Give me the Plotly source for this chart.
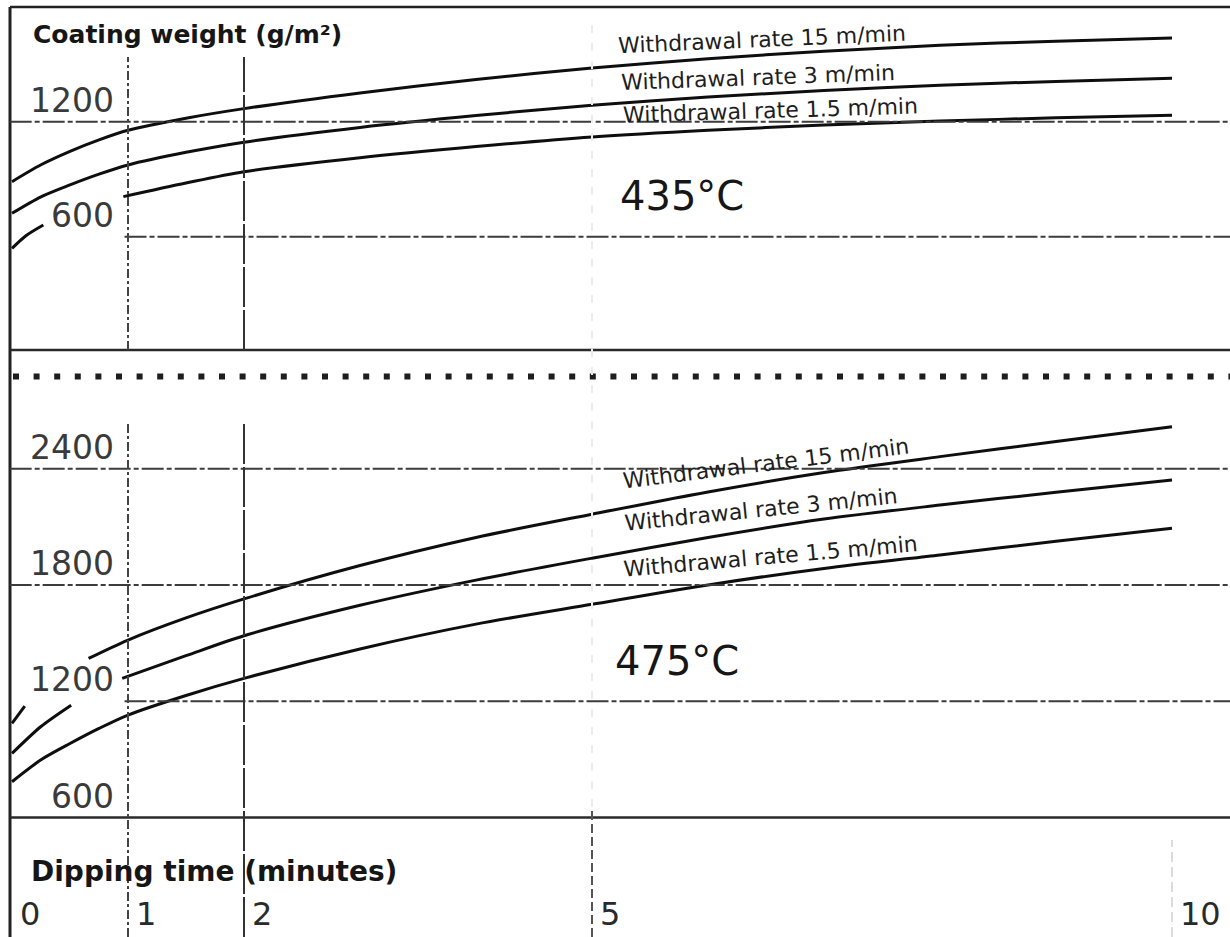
import plotly.graph_objects as go

# ---------------- data ----------------
x_ticks = [0, 1, 2, 5, 10]
x_tick_labels = ["0", "1", "2", "5", "10"]
y_ticks_top = [600, 1200]
y_ticks_bottom = [600, 1200, 1800, 2400]

series_names = ["Withdrawal rate 15 m/min", "Withdrawal rate 3 m/min", "Withdrawal rate 1.5 m/min"]
temperatures = ["435°C", "475°C"]

# 435 °C panel
x_435 = [0, 0.25, 0.5, 0.75, 1, 1.5, 2, 3, 4, 5, 6, 7, 8, 9, 10]
w15_435 = [887, 975, 1045, 1105, 1155, 1218, 1268, 1350, 1420, 1480, 1528, 1567, 1598, 1620, 1636]
w3_435 = [722, 808, 870, 926, 974, 1040, 1093, 1170, 1232, 1285, 1328, 1362, 1390, 1410, 1426]
x_435_slow = [0, 0.12, 0.27, 0.6, 0.96, 1.5, 2, 3, 4, 5, 6, 7, 8, 9, 10]
w1_5_435 = [539, 605, 661, None, 809, 880, 939, 1012, 1070, 1120, 1155, 1182, 1203, 1220, 1233]

# 475 °C panel
x_475_fast = [0, 0.11, 0.4, 0.66, 1, 1.5, 2, 3, 4, 5, 6, 7, 8, 9, 10]
w15_475 = [1086, 1175, None, 1421, 1516, 1630, 1728, 1900, 2045, 2165, 2280, 2380, 2462, 2540, 2616]
x_475_mid = [0, 0.25, 0.51, 0.7, 0.95, 1.5, 2, 3, 4, 5, 6, 7, 8, 9, 10]
w3_475 = [931, 1070, 1180, None, 1318, 1435, 1538, 1695, 1825, 1938, 2045, 2140, 2212, 2278, 2341]
x_475 = [0, 0.25, 0.5, 0.75, 1, 1.5, 2, 3, 4, 5, 6, 7, 8, 9, 10]
w1_5_475 = [785, 898, 982, 1060, 1129, 1230, 1318, 1470, 1598, 1700, 1800, 1885, 1955, 2025, 2092]

# ---------------- geometry helpers (pixel -> paper) ----------------
W, H = 1230, 937
ML, MT = 10, 7
PW, PH = W - ML, H - MT


def fx(px):
    return (px - ML) / PW


def fy(py):
    return (H - py) / PH


SPLIT = fy(350)
FONT = "DejaVu Sans"
INK = "#161616"

fig = go.Figure()

curve_style = dict(color="#0e0e0e", width=3, shape="spline", smoothing=0.8)
for xs, ys, ya in [
    (x_435, w15_435, "y"), (x_435, w3_435, "y"), (x_435_slow, w1_5_435, "y"),
    (x_475_fast, w15_475, "y2"), (x_475_mid, w3_475, "y2"), (x_475, w1_5_475, "y2"),
]:
    fig.add_trace(go.Scatter(x=xs, y=ys, mode="lines", line=curve_style,
                             xaxis="x", yaxis=ya, showlegend=False,
                             hoverinfo="skip", connectgaps=False))

shapes = []
# frame
shapes.append(dict(type="line", xref="paper", yref="paper", x0=0, x1=1, y0=1, y1=1,
                   line=dict(color="#222", width=2.5)))
shapes.append(dict(type="line", xref="paper", yref="paper", x0=0, x1=0, y0=0, y1=1,
                   line=dict(color="#222", width=3)))
shapes.append(dict(type="line", xref="paper", yref="paper", x0=0, x1=1, y0=SPLIT, y1=SPLIT,
                   line=dict(color="#2a2a2a", width=2.5)))
# dotted separator
shapes.append(dict(type="line", xref="paper", yref="paper", x0=fx(13), x1=1,
                   y0=fy(376.5), y1=fy(376.5),
                   line=dict(color="#1e1e1e", width=6, dash="6px,14.6px")))

grid_dash = dict(color="#3c3c3c", width=2, dash="22px,3px,5px,3px")
# horizontal grid lines
for v in y_ticks_top:
    x0 = 0.97 if v == 600 else -0.02
    shapes.append(dict(type="line", xref="x", yref="y", x0=x0, x1=10.6, y0=v, y1=v,
                       line=grid_dash))
for v in y_ticks_bottom:
    if v == 600:
        shapes.append(dict(type="line", xref="paper", yref="y2", x0=0, x1=1, y0=v, y1=v,
                           line=dict(color="#2a2a2a", width=2.5)))
    else:
        x0 = 0.97 if v == 1200 else -0.02
        shapes.append(dict(type="line", xref="x", yref="y2", x0=x0, x1=10.6, y0=v, y1=v,
                           line=grid_dash))

# vertical grid segments (pixel spans, style per tick)
v_style = {
    1: [((57, 350), dict(color="#444", width=2, dash="9px,3px,3px,3px")),
        ((421, 937), dict(color="#444", width=2, dash="9px,3px,3px,3px"))],
    2: [((57, 350), dict(color="#333", width=2, dash="40px,3px")),
        ((421, 937), dict(color="#333", width=2, dash="40px,3px"))],
    5: [((20, 807), dict(color="#ececec", width=2, dash="8px,10px")),
        ((807, 937), dict(color="#555", width=2, dash="9px,4px"))],
    10: [((840, 937), dict(color="#dcdcdc", width=2, dash="10px,5px"))],
}
for t in x_ticks:
    for (p0, p1), st in v_style.get(t, []):
        shapes.append(dict(type="line", xref="x", yref="paper", x0=t, x1=t,
                           y0=fy(p1), y1=fy(p0), line=st))

annotations = []
# y tick labels
for ya, ticks in [("y", y_ticks_top), ("y2", y_ticks_bottom)]:
    for v in ticks:
        annotations.append(dict(text=str(v), xref="paper", x=fx(116), xanchor="right",
                                yref=ya, y=v, yanchor="bottom", showarrow=False,
                                font=dict(family=FONT, size=33, color="#3a3a3a")))
# x tick labels
for t, lab in zip(x_ticks, x_tick_labels):
    annotations.append(dict(text=lab, xref="x", x=t, xanchor="left", xshift=6,
                            yref="paper", y=fy(914), yanchor="middle", showarrow=False,
                            font=dict(family=FONT, size=32, color="#2a2a2a")))
# axis titles
annotations.append(dict(text="Coating weight (g/m²)", xref="paper", x=fx(31), xanchor="left",
                        yref="paper", y=fy(34), yanchor="middle", showarrow=False,
                        font=dict(family=FONT, size=25, color=INK, weight="bold")))
annotations.append(dict(text="Dipping time (minutes)", xref="paper", x=fx(29), xanchor="left",
                        yref="paper", y=fy(871), yanchor="middle", showarrow=False,
                        font=dict(family=FONT, size=28, color=INK, weight="bold")))

# curve labels (pixel centre, angle)
label_pos = [
    (762, 39, -2.5), (758, 77, -2.1), (770, 111, -1.8),
    (766, 463, -7.0), (761, 509, -5.8), (770, 556, -5.0),
]
for i, (px, py, ang) in enumerate(label_pos):
    annotations.append(dict(text=series_names[i % 3], xref="paper", x=fx(px), xanchor="center",
                            yref="paper", y=fy(py), yanchor="middle", textangle=ang,
                            showarrow=False, font=dict(family=FONT, size=22, color="#1e1e1e")))
# temperature labels
for t, (px, py) in zip(temperatures, [(682, 196), (677, 661)]):
    annotations.append(dict(text=t, xref="paper", x=fx(px), xanchor="center",
                            yref="paper", y=fy(py), yanchor="middle", showarrow=False,
                            font=dict(family=FONT, size=40, color=INK)))

fig.update_layout(
    width=W, height=H,
    margin=dict(l=ML, r=0, t=MT, b=0, pad=0),
    paper_bgcolor="white", plot_bgcolor="white",
    showlegend=False, hovermode=False,
    xaxis=dict(domain=[0, 1], range=[-2 / 116, 10.5], visible=False, fixedrange=True),
    yaxis=dict(domain=[SPLIT, 1], range=[9, 1798], visible=False, fixedrange=True),
    yaxis2=dict(domain=[0, SPLIT], range=[-16, 3012], visible=False, fixedrange=True),
    shapes=shapes,
    annotations=annotations,
)

fig.write_html("out.html", config={"displayModeBar": False, "staticPlot": True},
               post_script="document.body.style.margin='0px';document.body.style.overflow='hidden';")
